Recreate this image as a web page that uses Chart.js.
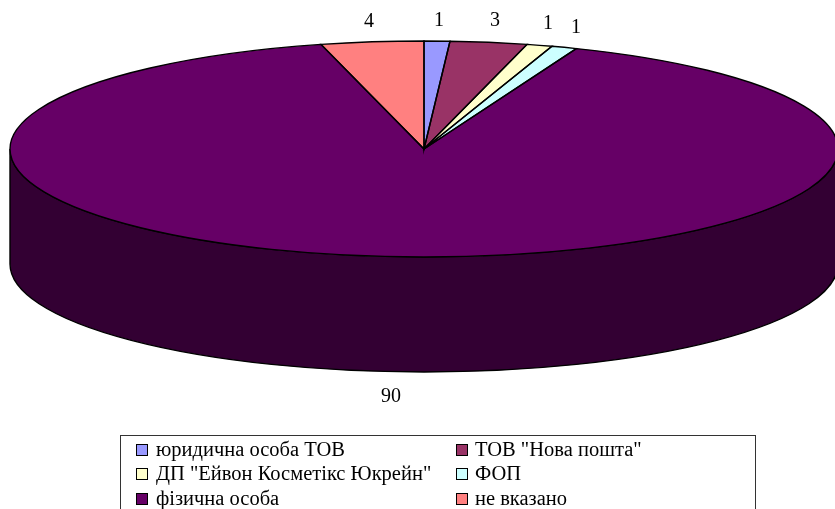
<!DOCTYPE html>
<html><head><meta charset="utf-8">
<style>html,body{margin:0;padding:0;background:#fff}canvas{display:block}</style>
<script src="https://cdn.jsdelivr.net/npm/chart.js@4"></script>
</head><body>
<canvas id="c" width="835" height="509"></canvas>
<script>
const categories = ['юридична особа ТОВ','ТОВ "Нова пошта"','ДП "Ейвон Косметікс Юкрейн"','ФОП','фізична особа','не вказано'];
const values = [1,3,1,1,90,4];
const sliceColors = ['#9999FF','#993366','#FFFFCC','#CCFFFF','#660066','#FF8080'];
const sideColors = ['#4D4D80','#4D1A33','#808066','#668080','#330033','#804040'];

const layoutCfg = {
  cy:149, ry:108, depth:115, rx:414,
  labelPos:[[439,21],[495,21],[548,24],[576,28],[391,397],[369,22]],
  legendBox:[120.5,435.5,635,80],
  legendCols:[136,456], legendText:[156,475], legendRows:[450,474,499], swatch:12
};
const valueFont = '20px "Liberation Serif"';
const legendFont = '20.5px "Liberation Serif"';

const pseudo3d = {
  id:'pseudo3d',
  beforeDatasetDraw(chart,args){
    const ctx=chart.ctx, meta=chart.getDatasetMeta(args.index);
    const first=meta.data[0], chartCy=first.y, cx=first.x, r=first.outerRadius;
    const k=layoutCfg.ry/r;
    // side wall, built from the library's own arc geometry
    ctx.save();
    ctx.lineWidth=1.4; ctx.strokeStyle='#000';
    meta.data.forEach((a,i)=>{
      const s=a.startAngle,e=a.endAngle;
      const segs=[[s,e],[s-2*Math.PI,e-2*Math.PI],[s+2*Math.PI,e+2*Math.PI]];
      segs.forEach(([s0,e0])=>{
        const lo=Math.max(s0,0),hi=Math.min(e0,Math.PI);
        if(hi<=lo)return;
        ctx.beginPath();
        ctx.ellipse(cx,layoutCfg.cy,r,layoutCfg.ry,0,lo,hi);
        ctx.ellipse(cx,layoutCfg.cy+layoutCfg.depth,r,layoutCfg.ry,0,hi,lo,true);
        ctx.closePath();
        ctx.fillStyle=sideColors[i];
        ctx.fill();ctx.stroke();
      });
    });
    ctx.restore();
    ctx.save();
    ctx.translate(0,layoutCfg.cy);
    ctx.scale(1,k);
    ctx.translate(0,-chartCy);
  },
  afterDatasetDraw(chart){
    const ctx=chart.ctx;
    ctx.restore();
    // outline of the squashed top, keeps an even line weight
    const a=chart.getDatasetMeta(0).data;
    ctx.save();
    ctx.strokeStyle='#000';ctx.lineWidth=1.4;
    a.forEach(el=>{
      ctx.beginPath();
      ctx.moveTo(el.x,layoutCfg.cy);
      ctx.ellipse(el.x,layoutCfg.cy,el.outerRadius,layoutCfg.ry,0,el.startAngle,el.endAngle);
      ctx.closePath();ctx.stroke();
    });
    ctx.restore();
  },
  afterDraw(chart){
    const ctx=chart.ctx, L=layoutCfg;
    ctx.save();
    ctx.fillStyle='#000';ctx.font=valueFont;ctx.textBaseline='middle';ctx.textAlign='center';
    values.forEach((v,i)=>ctx.fillText(String(v),L.labelPos[i][0],L.labelPos[i][1]));
    // legend
    ctx.strokeStyle='#333';ctx.lineWidth=1;
    ctx.strokeRect(...L.legendBox);
    ctx.textAlign='left';ctx.font=legendFont;
    categories.forEach((c,i)=>{
      const col=i%2,row=Math.floor(i/2),y=L.legendRows[row];
      ctx.fillStyle=sliceColors[i];
      ctx.fillRect(L.legendCols[col],y-6,L.swatch,L.swatch);
      ctx.strokeStyle='#000';
      ctx.strokeRect(L.legendCols[col]+.5,y-5.5,L.swatch-1,L.swatch-1);
      ctx.fillStyle='#000';
      ctx.fillText(c,L.legendText[col],y+0.5);
    });
    ctx.restore();
  }
};

new Chart(document.getElementById('c'),{
  type:'pie',
  data:{labels:categories,datasets:[{data:values,backgroundColor:sliceColors,borderWidth:0,clip:false}]},
  options:{
    responsive:false,animation:false,
    radius:layoutCfg.rx,
    layout:{padding:{left:13,right:0,top:0,bottom:0}},
    plugins:{legend:{display:false},tooltip:{enabled:false}}
  },
  plugins:[pseudo3d]
});
</script>
</body></html>
